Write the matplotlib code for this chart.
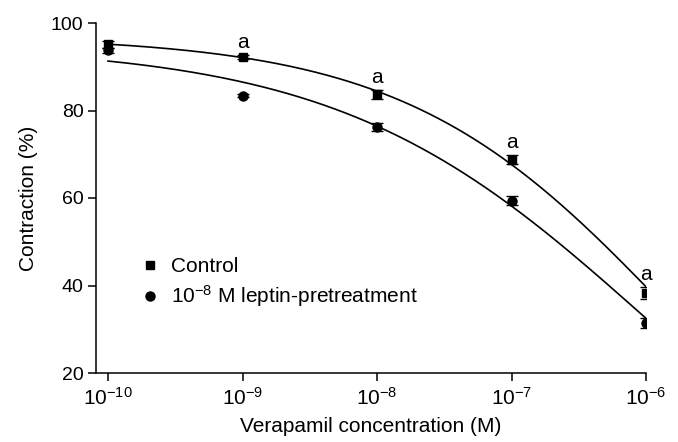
import numpy as np
import matplotlib
matplotlib.use("Agg")
import matplotlib.pyplot as plt
from matplotlib.lines import Line2D

plt.rcParams['font.family'] = ['Liberation Sans', 'DejaVu Sans']
plt.rcParams['mathtext.fontset'] = 'custom'
plt.rcParams['mathtext.rm'] = 'Liberation Sans'
plt.rcParams['mathtext.it'] = 'Liberation Sans'
plt.rcParams['mathtext.default'] = 'rm'

# Data
conc = [1e-10, 1e-9, 1e-8, 1e-7, 1e-6]
control = [95.2, 92.3, 83.7, 68.8, 38.3]
control_err = [0.8, 0.5, 1.0, 1.1, 1.3]
leptin = [93.8, 83.4, 76.2, 59.4, 31.4]
leptin_err = [0.6, 0.4, 0.9, 1.1, 1.2]
sig_marks = [False, True, True, True, True]

# Fitted sigmoid parameters (top, bottom, logEC50, hill slope)
control_fit = [97.0, -30.0, -5.805, 0.4368]
leptin_fit = [95.0, -30.0, -6.0, 0.379]

xticks = [1e-10, 1e-9, 1e-8, 1e-7, 1e-6]
yticks = [20, 40, 60, 80, 100]


def sigmoid(x, p):
    top, bottom, c, h = p
    return bottom + (top - bottom) / (1 + 10 ** ((np.log10(x) - c) * h))


fig = plt.figure(figsize=(6.78, 4.42), dpi=100)
ax = fig.add_axes([96 / 678, (442 - 373) / 442, 550 / 678, 350 / 442])

xs = np.logspace(-10, -6, 300)
ax.plot(xs, sigmoid(xs, control_fit), color='black', lw=1.2, zorder=2)
ax.plot(xs, sigmoid(xs, leptin_fit), color='black', lw=1.2, zorder=2)

ax.errorbar(conc, control, yerr=control_err, fmt='s', color='black', ms=6,
            capsize=4, elinewidth=1, capthick=1, zorder=3)
ax.errorbar(conc, leptin, yerr=leptin_err, fmt='o', color='black', ms=6.5,
            capsize=4, elinewidth=1, capthick=1, zorder=3)

for x, y, e, s in zip(conc, control, control_err, sig_marks):
    if s:
        ax.annotate('a', (x, y + e), xytext=(0, 2), textcoords='offset points',
                    ha='center', va='bottom', fontsize=15)

ax.set_xscale('log')
ax.set_xlim(10 ** (-10 - 12 / 134.5), 1e-6)
ax.set_ylim(20, 100)
ax.set_xticks(xticks)
ax.set_xticklabels([r'$10^{-%d}$' % int(round(-np.log10(t))) for t in xticks])
ax.minorticks_off()
ax.set_yticks(yticks)

ax.spines['top'].set_visible(False)
ax.spines['right'].set_visible(False)
for sp in ['left', 'bottom']:
    ax.spines[sp].set_linewidth(1.1)
ax.tick_params(axis='both', direction='out', length=6, width=1.1, labelsize=14)
ax.tick_params(axis='x', pad=4, labelsize=15)
ax.tick_params(axis='y', pad=3)

ax.set_xlabel('Verapamil concentration (M)', fontsize=15, labelpad=6)
ax.set_ylabel('Contraction (%)', fontsize=15, labelpad=9.5)

handles = [Line2D([], [], marker='s', color='black', ls='none', ms=6),
           Line2D([], [], marker='o', color='black', ls='none', ms=6.5)]
labels = ['Control', r'10$^{-8}$ M leptin-pretreatment']
ax.legend(handles, labels, loc='upper left', bbox_to_anchor=(0.045, 0.385),
          frameon=False, fontsize=15, handletextpad=0.5, labelspacing=0.35,
          handlelength=1.0)

fig.savefig('out.png', dpi=100)
